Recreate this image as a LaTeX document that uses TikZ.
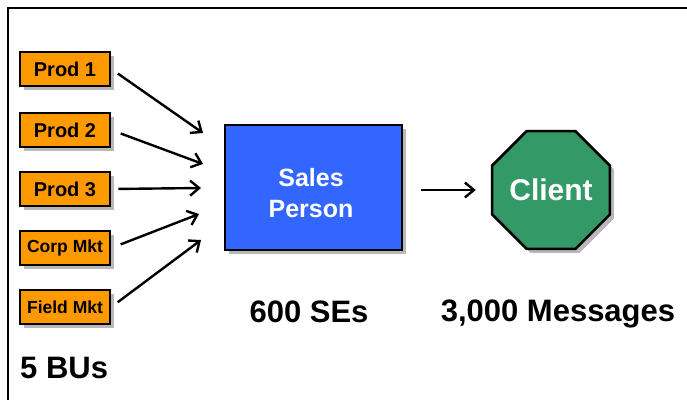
\documentclass[tikz,border=0pt]{standalone}
\usepackage{fontspec}
\setmainfont{Liberation Sans}
\usetikzlibrary{arrows.meta,shapes.geometric,shadows}
\definecolor{buorange}{HTML}{FF9900}
\definecolor{seblue}{HTML}{3366FF}
\definecolor{clgreen}{HTML}{339966}
\definecolor{shadowgray}{HTML}{B8B8B8}
\tikzset{
  boxshadow/.style={drop shadow={shadow xshift=4pt, shadow yshift=-4pt, fill=shadowgray, opacity=1}},
  bubox/.style={draw=black, line width=2.6pt, fill=buorange, minimum width=90pt, minimum height=34pt,
    inner sep=0pt, boxshadow, font=\bfseries\fontsize{20}{22}\selectfont},
  busmall/.style={bubox, font=\bfseries\fontsize{17.5}{20}\selectfont},
  flow/.style={line width=2.4pt, -{Straight Barb[length=9pt,width=15pt,line width=2.4pt]}},
  caption/.style={font=\bfseries\fontsize{31}{36}\selectfont, inner sep=0pt}
}
\begin{document}
\begin{tikzpicture}[x=1pt,y=-1pt]
  \useasboundingbox (0,0) rectangle (687,400);
  % frame lines at top and left
  \draw[line width=2pt] (687,8) -- (8,8) -- (8,400);

  % business units
  \node[bubox]   (p1) at (65,69)  {Prod 1};
  \node[bubox]   (p2) at (65,130) {Prod 2};
  \node[bubox]   (p3) at (65,189) {Prod 3};
  \node[busmall] (p4) at (65,248) {Corp Mkt};
  \node[busmall] (p5) at (65,307) {Field Mkt};

  % sales engineers
  \node[draw=black, line width=2.6pt, fill=seblue, minimum width=177pt, minimum height=125pt,
        inner sep=0pt, boxshadow] (se) at (313.5,187.5) {};
  \node[text=white, align=center, inner sep=0pt,
        font=\bfseries\fontsize{25}{31}\selectfont] (sel) at (311,193) {Sales\\Person};

  % client
  \node[regular polygon, regular polygon sides=8, minimum size=126pt, draw=black, line width=2.6pt,
        fill=clgreen, boxshadow, text=white, inner sep=0pt,
        font=\bfseries\fontsize{30}{34}\selectfont] (cl) at (551,190) {Client};

  % arrow targets in front of the sales box
  \coordinate (t1) at (203,133);
  \coordinate (t2) at (203,164);
  \coordinate (t3) at (201,188);
  \coordinate (t4) at (199,214);
  \coordinate (t5) at (201,240);

  \draw[flow, shorten <=8pt]  (p1.east) -- (t1);
  \draw[flow, shorten <=10pt] (p2.east) -- (t2);
  \draw[flow, shorten <=7pt]  (p3.east) -- (t3);
  \draw[flow, shorten <=10pt] (p4.east) -- (t4);
  \draw[flow, shorten <=8pt]  (p5.east) -- (t5);

  \draw[flow, shorten <=18pt, shorten >=15pt] (se.east |- cl.west) -- (cl.west);

  % captions
  \node[caption, anchor=base] (c1) at (309,322) {600 SEs};
  \node[caption, anchor=base] (c2) at (558,321) {3,000 Messages};
  \node[caption, anchor=base west] (c3) at (20,378) {5 BUs};
\end{tikzpicture}
\end{document}
